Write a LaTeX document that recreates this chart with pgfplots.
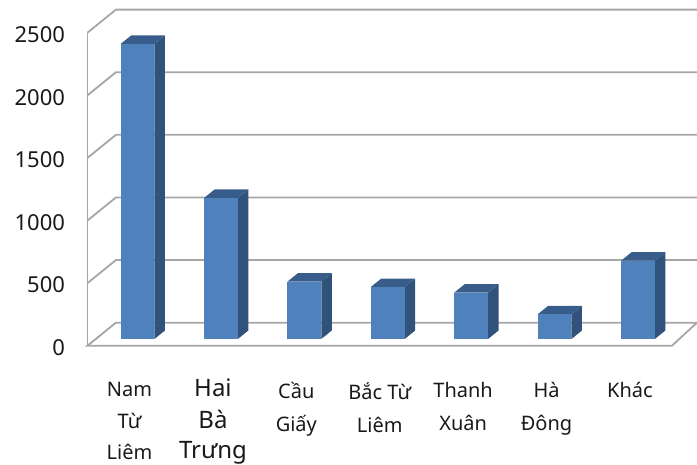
\documentclass[border=0pt]{standalone}
\usepackage{pgfplots}
\pgfplotsset{compat=1.18}
\usepackage{fontspec}
\setmainfont{Noto Sans}

\definecolor{barfront}{HTML}{4F81BD}
\definecolor{barside}{HTML}{31527B}
\definecolor{bartop}{HTML}{385D8A}
\definecolor{gridc}{HTML}{A6A6A6}

\newcommand{\biglbl}[1]{\fontsize{24}{32}\selectfont #1}
% one gridline: side wall diagonal + back wall
\newcommand{\gridln}[1]{%
  \pgfmathsetmacro\gb{#1+184}%
  \addplot[gridc, line width=1.8pt, no marks] coordinates {(-0.6,#1) (-0.259,\gb) (6.708,\gb)};
}
% 3d bar: category, value
\newcommand{\tdbar}[2]{%
  \pgfmathsetmacro\xl{#1-0.203}%
  \pgfmathsetmacro\xr{#1+0.203}%
  \pgfmathsetmacro\xs{#1+0.203+0.126}%
  \pgfmathsetmacro\xt{#1-0.203+0.126}%
  \pgfmathsetmacro\yt{53.5+#2}%
  \pgfmathsetmacro\ytb{53.5+#2+68}%
  \addplot[fill=barside, draw=none, no marks] coordinates {(\xr,53.5) (\xs,121.5) (\xs,\ytb) (\xr,\yt)} --cycle;
  \addplot[fill=bartop, draw=none, no marks] coordinates {(\xl,\yt) (\xr,\yt) (\xs,\ytb) (\xt,\ytb)} --cycle;
  \addplot[fill=barfront, draw=none, no marks] coordinates {(\xl,53.5) (\xr,53.5) (\xr,\yt) (\xl,\yt)} --cycle;
}

\begin{document}
\begin{tikzpicture}[x=1pt,y=1pt]
\useasboundingbox (-87.5,-119.3) rectangle (609.5,345.7);
\begin{axis}[
    scale only axis,
    width=609.5pt, height=335.7pt,
    xmin=-0.6, xmax=6.708,
    ymin=0, ymax=2681,
    clip=false,
    axis line style={draw=none},
    tick style={draw=none},
    ytick={0,500,1000,1500,2000,2500},
    xtick={0,1,2,3,4,5,6},
    xticklabels={
      {Nam\\[-1.5pt]Từ\\[-1.5pt]Liêm},
      {\raisebox{0pt}[14pt]{\biglbl{Hai}}\\[-1pt]\biglbl{Bà}\\[-3pt]\biglbl{Trưng}},
      {Cầu\\Giấy},
      {Bắc Từ\\Liêm},
      {Thanh\\Xuân},
      {Hà\\Đông},
      {Khác}},
    /pgf/number format/assume math mode=true,
    /pgf/number format/1000 sep={},
    scaled ticks=false,
    tick label style={text=black!90},
    yticklabel style={font=\fontsize{22}{24}\selectfont, xshift=-19pt, yshift=-2pt},
    xticklabel style={font=\fontsize{20}{33}\selectfont, align=center, anchor=north, inner sep=0pt, xshift=-8pt, yshift=-36.4pt},
]
% walls
\addplot[gridc, line width=1.8pt, no marks] coordinates {(-0.6,0) (-0.6,2500)};
\gridln{500}
\gridln{1000}
\gridln{1500}
\gridln{2000}
\gridln{2500}
% floor
\addplot[gridc, line width=1.8pt, no marks] coordinates {(6.708,184) (-0.259,184) (-0.6,0) (6.408,0) (6.708,184)};
% bars
\tdbar{0}{2356}
\tdbar{1}{1126}
\tdbar{2}{458}
\tdbar{3}{415}
\tdbar{4}{370}
\tdbar{5}{197}
\tdbar{6}{625}
\end{axis}
\end{tikzpicture}
\end{document}
